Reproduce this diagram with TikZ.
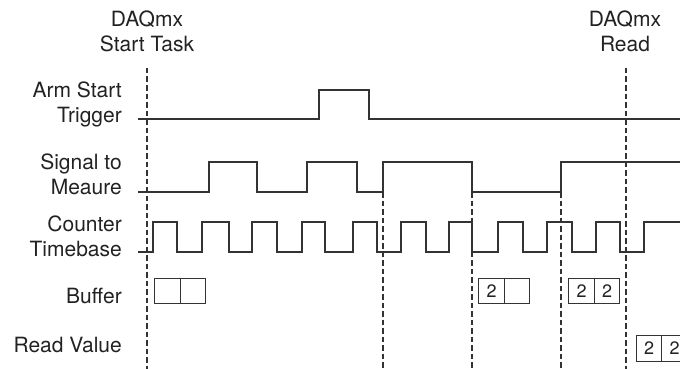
\documentclass[tikz,border=0pt]{standalone}
\usepackage{fontspec}
\setmainfont{TeX Gyre Heros}
\definecolor{ink}{HTML}{333333}
\definecolor{txt}{HTML}{222222}
\begin{document}
\begin{tikzpicture}[x=1pt,y=-1pt,
  lbl/.style={font=\fontsize{21}{25}\selectfont, text=txt, inner sep=0pt, anchor=base east},
  toplbl/.style={font=\fontsize{21}{25}\selectfont, text=txt, inner sep=0pt, anchor=base},
  wave/.style={draw=ink, line width=1.3pt},
  vline/.style={draw=ink, line width=1.25pt, dash pattern=on 5.5pt off 3pt},
  cell/.style={draw=ink, line width=1.1pt, minimum width=25.5pt, minimum height=25.5pt, inner sep=0pt,
    font=\fontsize{18}{20}\selectfont, text=txt}]
\useasboundingbox (0,0) rectangle (680,369);
\clip (0,0) rectangle (680,369);

% top labels
\node[toplbl] (st1) at (147,27) {DAQmx};
\node[toplbl] (st2) at (147,52) {Start Task};
\node[toplbl] (rd1) at (625,27) {DAQmx};
\node[toplbl] (rd2) at (625,52) {Read};

% row labels
\node[lbl] (arm1) at (122,97) {Arm Start};
\node[lbl] (arm2) at (122,122) {Trigger};
\node[lbl] (sig1) at (122,169) {Signal to};
\node[lbl] (sig2) at (122,194) {Meaure};
\node[lbl] (cnt1) at (122,231) {Counter};
\node[lbl] (cnt2) at (122,256) {Timebase};
\node[lbl] (buf) at (122,303) {Buffer};
\node[lbl] (rv) at (122,352) {Read Value};

% dashed marker lines
\coordinate (d0a) at (147,68);  \coordinate (d0b) at (147,369);
\coordinate (d1a) at (383,192); \coordinate (d1b) at (383,369);
\coordinate (d2a) at (472,192); \coordinate (d2b) at (472,369);
\coordinate (d3a) at (561,192); \coordinate (d3b) at (561,369);
\coordinate (d4a) at (626,68);  \coordinate (d4b) at (626,369);
\draw[vline] (d0a) -- (d0b);
\draw[vline] (d1a) -- (d1b);
\draw[vline] (d2a) -- (d2b);
\draw[vline] (d3a) -- (d3b);
\draw[vline] (d4a) -- (d4b);

% Arm start trigger
\draw[wave] (138,119) -| (319,90) -| (369,119) -- (680,119);

% Signal to measure
\draw[wave] (138,192) -| (209,162) -| (257,192) -| (307,162) -| (357,192)
  -| (383,162) -| (472,192) -| (561,162) -- (680,162);

% Counter timebase
\draw[wave] (138,252) -| (153,222) -| (177,252) -| (202,222) -| (229,252)
  -| (252,222) -| (277,252) -| (302,222) -| (325,252) -| (353,222)
  -| (377,252) -| (401,222) -| (426,252) -| (449,222) -| (472,252)
  -| (498,222) -| (523,252) -| (547,222) -| (572,252) -| (596,222)
  -| (620,252) -| (644,222) -- (680,222);

% Buffers
\node[cell] (b1a) at (167.5,291) {};
\node[cell] (b1b) at (193,291) {};
\node[cell] (b2a) at (491.5,291) {2};
\node[cell] (b2b) at (517,291) {};
\node[cell] (b3a) at (581.5,291) {2};
\node[cell] (b3b) at (607,291) {2};

% Read value
\node[cell] (r1) at (649,348.5) {2};
\node[cell] (r2) at (674.5,348.5) {2};
\end{tikzpicture}
\end{document}
